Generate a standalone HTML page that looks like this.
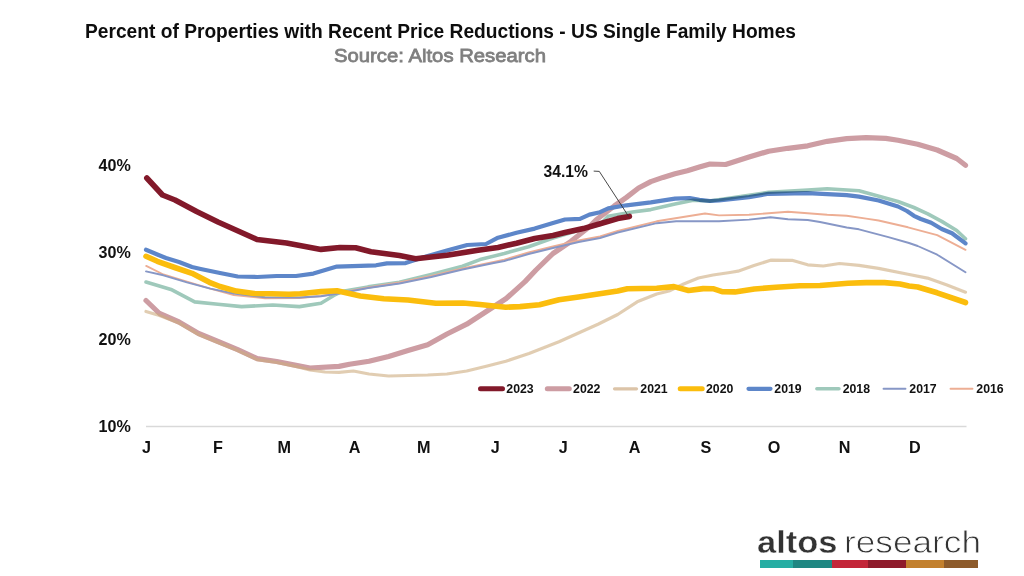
<!DOCTYPE html>
<html><head><meta charset="utf-8">
<style>
html,body{margin:0;padding:0;background:#fff;width:1024px;height:576px;overflow:hidden;}
svg{display:block;}
text{font-family:"Liberation Sans",sans-serif;}
</style></head>
<body>
<svg width="1024" height="576" viewBox="0 0 1024 576">
<text x="85" y="37.8" font-size="20" font-weight="bold" fill="#0d0d0d" textLength="711" lengthAdjust="spacingAndGlyphs">Percent of Properties with Recent Price Reductions - US Single Family Homes</text>
<text x="334" y="62" font-size="19.2" fill="#7f7f7f" stroke="#7f7f7f" stroke-width="0.8" textLength="212" lengthAdjust="spacingAndGlyphs">Source: Altos Research</text>
<g font-size="16.1" font-weight="bold" fill="#111">
<text x="98.5" y="170.5">40%</text>
<text x="98.5" y="258">30%</text>
<text x="98.5" y="345">20%</text>
<text x="98.5" y="431.5">10%</text>
</g>
<line x1="146" y1="426.4" x2="966.5" y2="426.4" stroke="#d9d9d9" stroke-width="1.5"/>
<g font-size="16.2" font-weight="bold" fill="#111" text-anchor="middle">
<text x="146.4" y="452.7">J</text><text x="217.9" y="452.7">F</text><text x="284.3" y="452.7">M</text><text x="354.6" y="452.7">A</text><text x="423.8" y="452.7">M</text><text x="495.2" y="452.7">J</text><text x="563.2" y="452.7">J</text><text x="634.7" y="452.7">A</text><text x="705.8" y="452.7">S</text><text x="774.1" y="452.7">O</text><text x="844.5" y="452.7">N</text><text x="914.8" y="452.7">D</text>
</g>
<path d="M146.0,300.5 L159.5,313.5 L179.0,322.0 L198.6,333.5 L218.0,341.5 L237.7,349.6 L257.2,358.6 L276.7,361.5 L296.0,365.4 L310.0,368.0 L339.0,366.4 L349.5,364.2 L369.0,361.3 L388.6,356.4 L408.0,350.5 L427.7,344.7 L447.0,334.0 L466.7,324.2 L486.3,311.5 L506.2,298.5 L525.0,281.6 L536.0,270.0 L553.0,253.5 L571.0,241.3 L589.4,226.7 L596.0,220.0 L614.3,206.0 L626.5,197.4 L638.6,188.0 L650.8,181.6 L663.0,177.4 L675.0,173.7 L687.3,170.7 L699.4,167.0 L710.0,164.0 L725.6,164.5 L749.0,157.1 L768.6,151.2 L788.0,148.3 L807.7,145.8 L827.2,141.3 L846.7,138.6 L866.2,137.6 L885.8,138.4 L898.0,140.3 L917.7,144.2 L937.2,150.0 L956.7,158.5 L965.5,165.3" fill="none" stroke="#cd9da3" stroke-width="5.2" stroke-linejoin="round" stroke-linecap="round"/>
<path d="M146.0,311.5 L159.5,315.5 L179.0,323.0 L198.6,334.5 L218.0,342.5 L237.7,350.6 L257.2,359.6 L276.7,362.5 L296.0,366.4 L310.0,370.0 L325.0,372.0 L339.0,372.3 L353.4,371.0 L369.0,374.0 L388.6,376.0 L427.7,375.0 L447.0,374.0 L466.7,371.0 L486.3,366.2 L505.8,361.3 L529.0,353.5 L559.0,341.8 L598.0,324.2 L617.7,314.5 L637.2,301.8 L656.7,294.0 L669.0,291.0 L683.7,284.0 L698.4,278.0 L713.0,275.0 L730.0,272.5 L738.0,271.2 L754.0,265.5 L770.6,260.2 L792.0,260.3 L807.7,264.8 L823.3,266.0 L839.5,263.5 L859.0,265.4 L878.6,268.4 L908.0,274.2 L927.4,278.1 L947.0,285.0 L965.5,292.2" fill="none" stroke="#cdab7e" stroke-width="3.2" stroke-linejoin="round" stroke-linecap="round" stroke-opacity="0.6"/>
<path d="M146.0,249.8 L157.3,254.5 L166.0,258.0 L179.0,262.0 L192.0,267.0 L200.7,269.0 L220.0,273.0 L237.7,276.5 L257.2,277.0 L276.7,276.0 L296.0,276.0 L313.4,273.6 L336.9,266.6 L376.0,265.3 L386.9,263.4 L405.6,263.1 L423.4,257.3 L446.9,250.5 L467.2,245.0 L486.0,244.0 L498.0,237.7 L516.5,232.8 L534.7,228.6 L553.0,223.1 L565.0,219.5 L580.0,218.8 L589.4,214.6 L600.0,212.2 L608.2,208.4 L626.5,205.3 L650.8,202.3 L675.0,198.6 L689.7,198.0 L699.4,199.8 L710.0,201.0 L719.0,200.5 L749.0,197.1 L768.6,193.8 L807.7,193.2 L846.7,195.2 L859.0,196.6 L878.6,200.5 L898.0,206.5 L906.9,211.0 L913.9,215.8 L920.8,219.0 L931.2,222.8 L941.7,229.0 L952.0,233.2 L965.5,243.4" fill="none" stroke="#5d86c9" stroke-width="4.2" stroke-linejoin="round" stroke-linecap="round"/>
<path d="M146.0,282.0 L171.0,289.4 L194.7,301.9 L218.0,304.2 L241.6,306.6 L272.8,305.0 L299.4,306.6 L321.0,303.3 L333.8,295.5 L341.6,291.6 L368.0,286.9 L399.4,282.2 L431.2,274.5 L462.5,266.2 L480.0,259.6 L504.3,253.5 L528.6,246.8 L553.0,238.0 L583.0,229.0 L600.0,224.5 L608.2,216.3 L632.6,212.0 L650.8,209.6 L675.0,204.0 L693.3,200.3 L710.0,201.0 L768.6,192.3 L807.7,190.0 L827.2,188.8 L859.0,190.7 L898.0,201.5 L913.9,207.5 L927.8,213.8 L941.7,221.4 L956.7,230.5 L965.5,238.7" fill="none" stroke="#9fc9bb" stroke-width="3.6" stroke-linejoin="round" stroke-linecap="round" style="mix-blend-mode:multiply"/>
<path d="M146.2,265.9 L163.4,274.5 L186.9,281.6 L210.3,288.6 L233.8,295.0 L265.0,298.3 L299.4,298.0 L321.0,296.0 L341.6,292.5 L368.0,287.5 L399.4,282.5 L431.2,276.0 L462.5,268.5 L493.8,262.0 L504.3,259.6 L528.6,252.5 L553.0,246.5 L578.6,240.5 L600.0,236.5 L617.7,231.0 L656.7,221.3 L705.0,213.5 L719.0,215.4 L749.0,214.7 L788.0,211.8 L827.2,214.7 L846.7,215.7 L866.2,218.6 L878.6,220.5 L908.0,227.3 L937.2,235.2 L965.5,249.8" fill="none" stroke="#edae94" stroke-width="1.9" stroke-linejoin="round" stroke-linecap="round"/>
<path d="M146.0,271.4 L163.4,275.3 L186.9,282.3 L210.3,288.6 L233.8,293.5 L265.0,297.3 L299.0,297.5 L321.0,296.3 L341.6,293.0 L368.0,288.0 L399.4,283.5 L431.2,277.0 L462.5,269.5 L493.8,263.0 L504.3,261.0 L528.6,254.0 L553.0,248.0 L578.6,242.0 L600.0,238.0 L617.7,232.5 L656.7,223.2 L676.2,221.3 L719.0,221.3 L749.0,219.6 L770.5,217.3 L788.0,219.3 L807.7,220.0 L820.0,222.0 L846.7,227.5 L859.0,229.3 L888.4,237.1 L909.0,243.0 L917.7,246.0 L937.2,254.7 L965.5,272.3" fill="none" stroke="#8797c6" stroke-width="1.9" stroke-linejoin="round" stroke-linecap="round"/>
<path d="M146.0,256.3 L157.3,261.3 L174.7,267.5 L192.0,273.3 L209.4,282.3 L220.0,286.5 L236.4,291.1 L254.0,293.5 L271.5,293.7 L289.0,294.2 L300.0,293.7 L321.0,291.6 L337.0,290.8 L360.3,296.0 L383.8,298.7 L408.0,300.0 L435.8,303.3 L463.0,303.0 L480.0,304.5 L505.8,307.2 L520.0,306.6 L539.5,304.7 L559.0,299.8 L578.6,296.9 L598.0,294.0 L617.7,291.0 L627.4,288.7 L656.7,288.3 L674.0,286.6 L688.6,290.5 L703.2,288.6 L713.0,288.7 L722.8,291.8 L735.0,291.9 L754.4,289.0 L776.0,287.3 L800.0,285.8 L820.0,285.5 L848.0,283.2 L866.0,282.6 L884.5,282.6 L900.0,284.0 L909.0,286.0 L917.7,287.0 L937.2,292.8 L965.5,302.5" fill="none" stroke="#fbbd0d" stroke-width="5.6" stroke-linejoin="round" stroke-linecap="round"/>
<path d="M146.8,178.0 L162.5,195.0 L175.0,200.0 L196.6,211.5 L218.0,222.0 L257.0,239.5 L286.5,243.0 L321.0,249.4 L340.0,247.5 L355.6,247.8 L371.0,251.7 L399.4,255.6 L415.6,258.7 L446.9,255.3 L478.0,250.3 L498.0,247.4 L516.5,243.2 L534.7,238.5 L553.0,235.5 L565.0,232.5 L583.3,228.6 L600.0,223.7 L617.7,218.6 L629.4,216.4" fill="none" stroke="#82192a" stroke-width="5.6" stroke-linejoin="round" stroke-linecap="round"/>
<polyline points="593.7,171.1 599.3,171.4 628.7,216.5" fill="none" stroke="#333" stroke-width="0.9"/>
<text x="543.5" y="177.3" font-size="16" font-weight="bold" fill="#111" textLength="44.5" lengthAdjust="spacingAndGlyphs">34.1%</text>
<g font-size="12.3" font-weight="bold" fill="#111">
<line x1="480.5" y1="388.8" x2="502.5" y2="388.8" stroke="#82192a" stroke-width="5.0" stroke-linecap="round"/>
<text x="506.3" y="393">2023</text>
<line x1="547.3" y1="388.8" x2="569.3" y2="388.8" stroke="#cd9da3" stroke-width="5.0" stroke-linecap="round"/>
<text x="573.1" y="393">2022</text>
<line x1="614.5" y1="388.8" x2="636.5" y2="388.8" stroke="#dcc4a8" stroke-width="3.2" stroke-linecap="round"/>
<text x="640.3" y="393">2021</text>
<line x1="680.2" y1="388.8" x2="702.2" y2="388.8" stroke="#fbbd0d" stroke-width="5.0" stroke-linecap="round"/>
<text x="706.0" y="393">2020</text>
<line x1="748.5" y1="388.8" x2="770.5" y2="388.8" stroke="#5d86c9" stroke-width="4.2" stroke-linecap="round"/>
<text x="774.3" y="393">2019</text>
<line x1="816.9" y1="388.8" x2="838.9" y2="388.8" stroke="#9fc9bb" stroke-width="3.6" stroke-linecap="round"/>
<text x="842.7" y="393">2018</text>
<line x1="883.5" y1="388.8" x2="905.5" y2="388.8" stroke="#8797c6" stroke-width="1.9" stroke-linecap="round"/>
<text x="909.3" y="393">2017</text>
<line x1="950.5" y1="388.8" x2="972.5" y2="388.8" stroke="#edae94" stroke-width="1.9" stroke-linecap="round"/>
<text x="976.3" y="393">2016</text>
</g>
<g fill="#333">
<text x="757" y="552.8" font-size="32" font-weight="bold" stroke="#fff" stroke-width="0.4" textLength="80.5" lengthAdjust="spacingAndGlyphs">altos</text>
<text x="844" y="552.8" font-size="32" stroke="#fff" stroke-width="0.8" textLength="137" lengthAdjust="spacingAndGlyphs">research</text>
</g>
<g shape-rendering="crispEdges">
<rect x="760" y="560" width="33" height="8" fill="#26ada3"/>
<rect x="793" y="560" width="39" height="8" fill="#1f8782"/>
<rect x="832" y="560" width="36" height="8" fill="#c32639"/>
<rect x="868" y="560" width="38" height="8" fill="#8e1b2b"/>
<rect x="906" y="560" width="38" height="8" fill="#c2802e"/>
<rect x="944" y="560" width="34" height="8" fill="#8d5b2b"/>
</g>
</svg>
</body></html>
